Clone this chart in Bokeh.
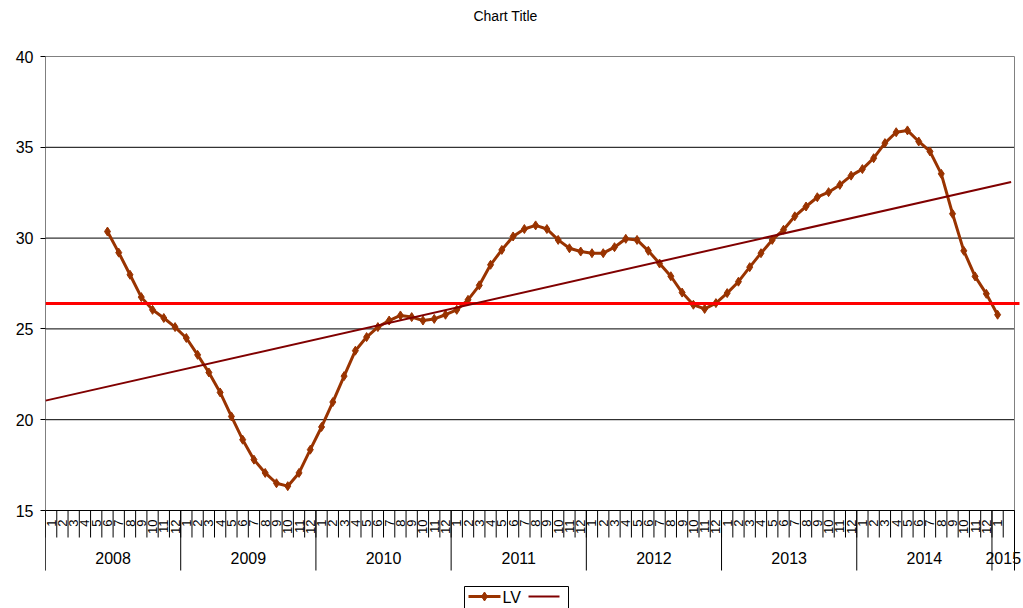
import math
from bokeh.plotting import figure
from bokeh.models import Range1d, FixedTicker
from bokeh.core.properties import value
from bokeh.embed import file_html
from bokeh.resources import INLINE

# ---------------- data ----------------
years = ["2008", "2009", "2010", "2011", "2012", "2013", "2014", "2015"]
months_in_year = [12, 12, 12, 12, 12, 12, 12, 2]
month_labels = [str(m) for m in range(1, 13)] * 7 + ["1", ""]
series_name = "LV"
first_month_index = 5  # June 2008
lv_values = [
    30.36, 29.20, 27.98, 26.75, 26.05, 25.60, 25.10,            # 2008 Jun-Dec
    24.50, 23.57, 22.60, 21.50, 20.18, 18.90, 17.80, 17.07,     # 2009
    16.50, 16.34, 17.07, 18.35,
    19.60, 20.97, 22.40, 23.80, 24.55, 25.10, 25.46, 25.74,     # 2010
    25.65, 25.46, 25.55, 25.78,
    26.05, 26.60, 27.40, 28.53, 29.35, 30.09, 30.50, 30.70,     # 2011
    30.50, 29.90, 29.44, 29.26,
    29.17, 29.17, 29.50, 29.96, 29.90, 29.30, 28.60, 27.90,     # 2012
    27.00, 26.33, 26.10, 26.42,
    26.97, 27.60, 28.40, 29.17, 29.90, 30.46, 31.20, 31.74,     # 2013
    32.25, 32.53, 32.93, 33.44,
    33.80, 34.40, 35.23, 35.83, 35.93, 35.32, 34.77, 33.54,     # 2014
    31.34, 29.30, 27.89, 26.93,
    25.78,                                                      # 2015 Jan
]
mean_level = 26.4
trend_positions = [0.0, 85.7]
trend_values = [21.05, 33.09]
y_ticks = [15, 20, 25, 30, 35, 40]
y_grid = [20, 25, 30, 35]
title_text = "Chart Title"

# ---------------- layout helpers ----------------
FONT = "Liberation Sans"
N_CAT = sum(months_in_year)
Y_MIN, Y_MAX = 15, 40
U = 969.0 / N_CAT            # px per category
K = 454.0 / (Y_MAX - Y_MIN)  # px per unit
FRAME_LEFT = 45.0            # page px
TOP_PAGE = 56.0              # page y of Y_MAX


def px(page_x):
    return (page_x - FRAME_LEFT) / U


def py(page_y):
    return Y_MAX - (page_y - TOP_PAGE) / K


W, H = 1023, 608
p = figure(width=W, height=H, output_backend="svg", toolbar_location=None,
           x_range=Range1d(px(45), px(1023)), y_range=Range1d(py(608), py(0)),
           min_border_left=45, min_border_right=0, min_border_top=0,
           min_border_bottom=0)
p.outline_line_color = None
p.xaxis.visible = False
p.xgrid.visible = False
p.ygrid.visible = False
p.background_fill_color = "white"
p.border_fill_color = "white"

# y axis (real bokeh axis)
ya = p.yaxis[0]
ya.ticker = FixedTicker(ticks=y_ticks)
ya.axis_line_color = None
ya.major_tick_out = 5
ya.major_tick_in = 0
ya.minor_tick_out = 0
ya.minor_tick_in = 0
ya.major_tick_line_color = "black"
ya.major_label_standoff = 7
ya.major_label_text_font = FONT
ya.major_label_text_font_size = "16px"
ya.major_label_text_color = "black"

# gridlines and plot area border
p.segment(x0=[0] * len(y_grid), x1=[N_CAT] * len(y_grid), y0=y_grid, y1=y_grid,
          line_color="black", line_width=1)
p.segment(x0=[0], x1=[N_CAT], y0=[Y_MAX], y1=[Y_MAX], line_color="#808080", line_width=1)
p.segment(x0=[N_CAT], x1=[N_CAT], y0=[Y_MIN], y1=[Y_MAX], line_color="#808080", line_width=1)

# axis lines
p.segment(x0=[0], x1=[N_CAT], y0=[Y_MIN], y1=[Y_MIN], line_color="black", line_width=1)
p.segment(x0=[0], x1=[0], y0=[py(570)], y1=[Y_MAX], line_color="black", line_width=1)

# month ticks
bounds = list(range(N_CAT + 1))
p.segment(x0=bounds, x1=bounds, y0=[Y_MIN] * len(bounds), y1=[py(537)] * len(bounds),
          line_color="black", line_width=1)
# year dividers
year_starts = []
s = 0
for n in months_in_year:
    year_starts.append(s)
    s += n
year_bounds = year_starts + [N_CAT]
p.segment(x0=year_bounds, x1=year_bounds, y0=[Y_MIN] * len(year_bounds),
          y1=[py(570)] * len(year_bounds), line_color="black", line_width=1)

# month labels
p.text(x=[i + 0.5 for i in range(N_CAT)], y=[py(519)] * N_CAT, text=month_labels,
       angle=math.pi / 2, text_align="right", text_baseline="middle",
       text_font=value(FONT), text_font_size="13px", text_color="black")

# year labels
year_centers = [st + n / 2 for st, n in zip(year_starts, months_in_year)]
p.text(x=year_centers, y=[py(557)] * len(years), text=years,
       text_align="center", text_baseline="middle",
       text_font=value(FONT), text_font_size="16px", text_color="black")

# series
xs = [first_month_index + k + 0.5 for k in range(len(lv_values))]
SER_COLOR = "#993300"
p.line(xs, lv_values, line_color=SER_COLOR, line_width=3)
p.scatter(xs, lv_values, marker="diamond", size=9, fill_color=SER_COLOR,
          line_color=SER_COLOR)

# mean line
p.line([0, px(1019)], [mean_level, mean_level], line_color="#FF0000", line_width=3)

# trendline
p.line(trend_positions, trend_values, line_color="#800000", line_width=2)

# title
p.text(x=[px(505)], y=[py(15)], text=[title_text], text_align="center",
       text_baseline="middle", text_font=value(FONT), text_font_size="14px",
       text_color="black")

# legend
p.quad(left=[px(464)], right=[px(568)], top=[py(586)], bottom=[py(615)],
       fill_color="white", line_color="black", line_width=1)
p.line([px(468), px(500)], [py(596), py(596)], line_color=SER_COLOR, line_width=3)
p.scatter([px(484)], [py(596)], marker="diamond", size=9, fill_color=SER_COLOR,
          line_color=SER_COLOR)
p.text(x=[px(502)], y=[py(597)], text=[series_name], text_align="left",
       text_baseline="middle", text_font=value(FONT), text_font_size="16px",
       text_color="black")
p.line([px(528), px(559)], [py(596), py(596)], line_color="#800000", line_width=2)

open("out.html", "w").write(file_html(p, INLINE))
